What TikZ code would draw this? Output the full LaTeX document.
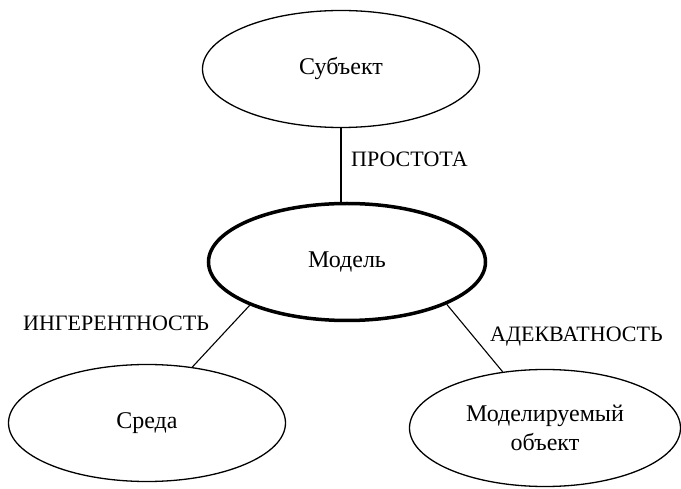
\documentclass[tikz,border=0pt]{standalone}
\usepackage{fontspec}
\setmainfont{Liberation Serif}
\usetikzlibrary{positioning,shapes}

\begin{document}
\begin{tikzpicture}[x=1pt, y=-1pt,
        every node/.style = {font=\fontsize{22}{29}\selectfont},
        concept/.style = {shape=ellipse, draw, line width=1.3pt, align=center,
        inner sep=0pt, minimum width=277pt, minimum height=117pt,
        font=\fontsize{24}{29}\selectfont},
        quality/.style = {anchor=west, inner sep=0pt}]
        \useasboundingbox (0,0) rectangle (681,489);
	        \node[concept] (subject) at (341,69) {Субъект};
	        \node[concept, line width=3.5pt, minimum width=277pt, minimum height=117pt]
                    (model) at (347,262) {Модель};
	        \node[concept] (medium) at (147,423) {Среда};
	        \node[concept, minimum width=271pt] (object) at (545,428) {Моделируемый\\объект};
            % labels
	        \node[quality] (simplicity) at (351,159) {ПРОСТОТА};
	        \node[quality] (inherence) at (23,323) {ИНГЕРЕНТНОСТЬ};
	        \node[quality] (adequacy) at (490,337) {АДЕКВАТНОСТЬ};
            % connectors
	        \draw[line width=1.1pt] (subject.south) -- (subject.south |- model.north);
	        \draw[line width=1.1pt] (model.204) -- (medium.51);
	        \draw[line width=1.1pt] (model.-23) -- (object.127);
        \end{tikzpicture}
\end{document}
